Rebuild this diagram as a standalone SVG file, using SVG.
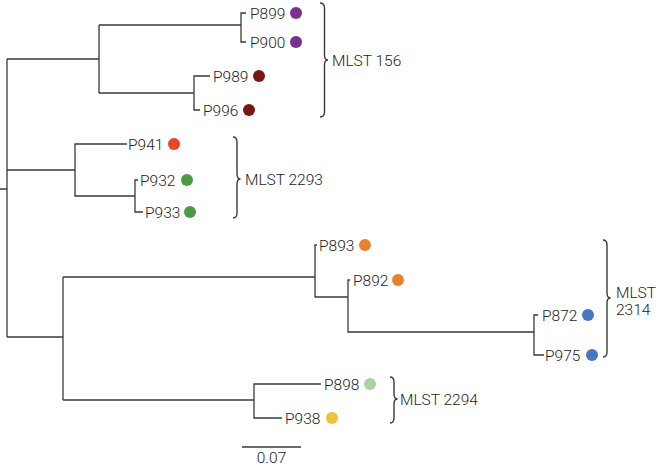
<svg xmlns="http://www.w3.org/2000/svg" width="658" height="467" viewBox="0 0 658 467">
<style>
.ln{fill:none;stroke:#3a3a3a;stroke-width:1.3}
.br{fill:none;stroke:#3a3a3a;stroke-width:1.4}
.t{font-family:Roboto,"Liberation Sans",sans-serif;font-size:15.5px;font-weight:300;fill:#222222}
</style>
<rect width="658" height="467" fill="#ffffff"/>
<g id="connectors">
<path class="ln" d="M0 189H7M7 59V337"/>
<path class="ln" d="M7 59H99V25M99 59V93"/>
<path class="ln" d="M99 25H241M246 13H241V42H246"/>
<path class="ln" d="M99 93H194M210 76H194V110H200"/>
<path class="ln" d="M7 170H75M127 144H75V196H135M138 180H135V212H143"/>
<path class="ln" d="M7 337H63M63 277V400"/>
<path class="ln" d="M63 277H315M317 245H315V297H348M350 280H348V332H534M538 315H534V355H544"/>
<path class="ln" d="M63 400H254M321 384H254V418H282"/>
<path class="ln" d="M242 447H301"/>
</g>
<g id="P899"><text class="t" x="250" y="18.5">P899</text><circle cx="296" cy="13" r="6" fill="#7b2f8e"/></g>
<g id="P900"><text class="t" x="250" y="47.5">P900</text><circle cx="296" cy="42" r="6" fill="#7b2f8e"/></g>
<g id="P989"><text class="t" x="213" y="81.5">P989</text><circle cx="259" cy="76" r="6" fill="#7a1515"/></g>
<g id="P996"><text class="t" x="203" y="115.5">P996</text><circle cx="249" cy="110" r="6" fill="#7a1515"/></g>
<g id="P941"><text class="t" x="128" y="149.5">P941</text><circle cx="174" cy="144" r="6" fill="#e8432d"/></g>
<g id="P932"><text class="t" x="140" y="185.5">P932</text><circle cx="187" cy="180" r="6" fill="#4c9a43"/></g>
<g id="P933"><text class="t" x="145" y="217.5">P933</text><circle cx="190" cy="212" r="6" fill="#4c9a43"/></g>
<g id="P893"><text class="t" x="319" y="250.5">P893</text><circle cx="365" cy="245" r="6" fill="#e8822e"/></g>
<g id="P892"><text class="t" x="353" y="285.5">P892</text><circle cx="398" cy="280" r="6" fill="#e8822e"/></g>
<g id="P872"><text class="t" x="542" y="320.5">P872</text><circle cx="588" cy="315" r="6" fill="#4a74c4"/></g>
<g id="P975"><text class="t" x="545" y="360.5">P975</text><circle cx="592" cy="355" r="6" fill="#4a74c4"/></g>
<g id="P898"><text class="t" x="324" y="389.5">P898</text><circle cx="370" cy="384" r="6" fill="#a9d4a0"/></g>
<g id="P938"><text class="t" x="285" y="423.5">P938</text><circle cx="332" cy="418" r="6" fill="#f0c23a"/></g>
<g id="MLST156">
<path class="br" d="M320 3Q324.5 3 324.5 8V55Q324.5 60 328 60Q324.5 60 324.5 65V112Q324.5 117 320 117"/>
<text class="t" x="332" y="65.5">MLST 156</text>
</g>
<g id="MLST2293">
<path class="br" d="M233 137Q237 137 237 142V174Q237 179 240.5 179Q237 179 237 184V213Q237 218 233 218"/>
<text class="t" x="245" y="184.5">MLST 2293</text>
</g>
<g id="MLST2314">
<path class="br" d="M603 240Q607 240 607 245V293Q607 298 610.5 298Q607 298 607 303V352Q607 357 603 357"/>
<text class="t" x="616" y="297.5">MLST</text>
<text class="t" x="616" y="314.5">2314</text>
</g>
<g id="MLST2294">
<path class="br" d="M390 377Q394 377 394 382V394Q394 399 397.5 399Q394 399 394 404V418Q394 423 390 423"/>
<text class="t" x="400" y="404.5">MLST 2294</text>
</g>
<g id="scale"><text class="t" x="271.5" y="463" text-anchor="middle">0.07</text></g>
</svg>
